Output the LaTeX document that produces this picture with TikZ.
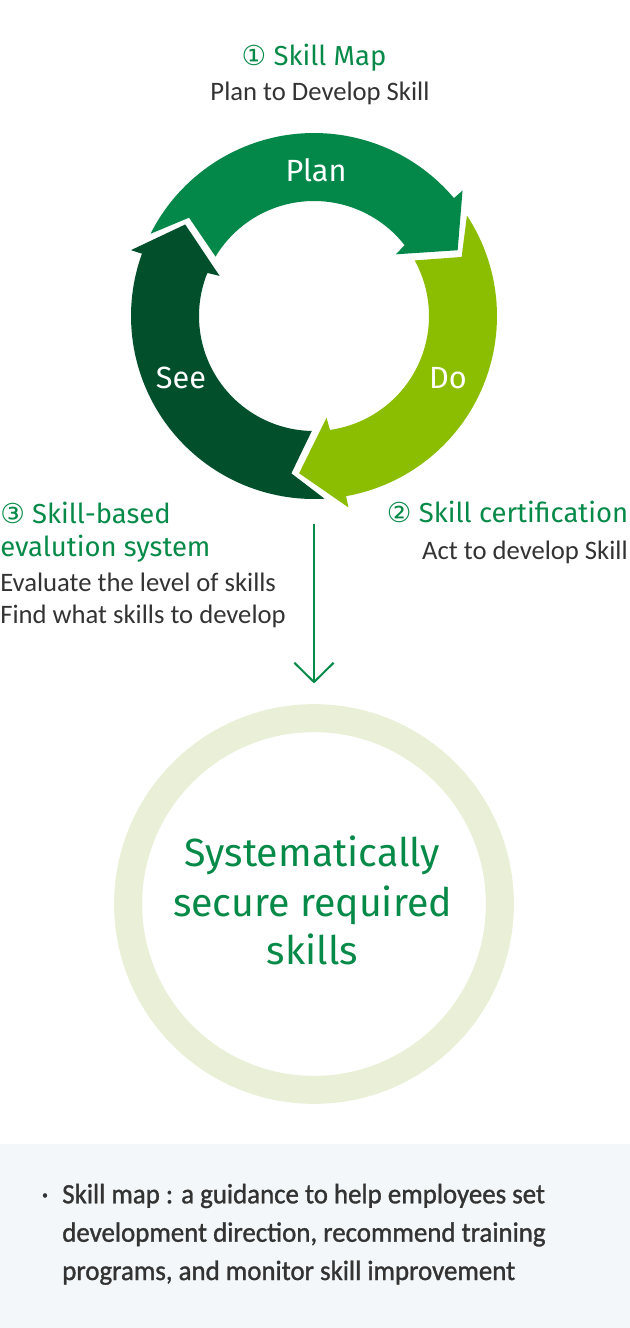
\documentclass[tikz,border=0pt]{standalone}
\usepackage{fontspec}
\setmainfont{Carlito}
\newfontfamily\headfont{Fira Sans}
\newfontfamily\symfont{DejaVu Sans}
\newfontfamily\notefont[FakeBold=1.2, FakeStretch=0.96]{Carlito}
\usetikzlibrary{positioning,arrows.meta}

\definecolor{plangreen}{HTML}{03884A}
\definecolor{dogreen}{HTML}{8BBD00}
\definecolor{seegreen}{HTML}{024F2C}
\definecolor{titlegreen}{HTML}{078A48}
\definecolor{textgray}{HTML}{333333}
\definecolor{ringgreen}{HTML}{E9F0D7}
\definecolor{notebg}{HTML}{F3F7FA}

% one bent arrow of the cycle: #1 = angle of its tip, #2 = colour
\newcommand{\cyclearrow}[2]{%
    \pgfmathsetmacro{\cyctip}{#1}%
    \pgfmathsetmacro{\cycprev}{#1+120}%
    \fill[#2] (\cycprev+8.7:183) arc[start angle=\cycprev+8.7, end angle=\cyctip+15.5, radius=183]
        -- (\cyctip+15.6:194.5) -- (\cyctip:158) -- (\cyctip+12.4:102.5) -- (\cyctip+13.4:115)
        arc[start angle=\cyctip+13.4, end angle=\cycprev+4.3, radius=115]
        -- (\cycprev-2.8:159) -- cycle;
}

\tikzset {
    head text/.style={
        font=\headfont\fontsize{20.6}{25}\selectfont,
        text=titlegreen,
        inner sep=0pt,
    },
    body text/.style={
        font=\fontsize{20}{24}\selectfont,
        text=textgray,
        inner sep=0pt,
    },
    cycle label/.style={
        font=\headfont\fontsize{23}{28}\selectfont,
        text=white,
        inner sep=0pt,
        anchor=base,
    },
    goal text/.style={
        font=\headfont\fontsize{29.5}{34}\selectfont,
        text=titlegreen,
        inner sep=0pt,
        anchor=base,
    },
    note text/.style={
        font=\notefont\fontsize{21}{26}\selectfont,
        text=textgray,
        inner sep=0pt,
    },
    flow arrow/.style={
        draw=titlegreen,
        line width=1.5pt,
        -{Straight Barb[length=14.5pt, width=29.5pt]},
        shorten >=15.5pt,
    },
}

\begin{document}
\begin{tikzpicture}[x=0.75pt, y=0.75pt]
    \useasboundingbox (0,0) rectangle (630,-1328);

    % plan - do - see
    \begin{scope}[shift={(314,-316)}]
        \cyclearrow{24.6}{plangreen}
        \cyclearrow{264.6}{dogreen}
        \cyclearrow{144.6}{seegreen}
    \end{scope}
    \node[cycle label] (plan) at (316,-181.7) {Plan};
    \node[cycle label] (do) at (448,-388.3) {Do};
    \node[cycle label] (see) at (181,-388.3) {See};

    \node[head text, anchor=base] (skillmap) at (314,-65) {{\symfont ①} Skill Map};
    \node[body text, anchor=base] (plandev) at (320,-100) {Plan to Develop Skill};

    \node[head text, anchor=base east] (cert) at (628.5,-522.3) {{\symfont ②} Skill certification};
    \node[body text, anchor=base east] (actdev) at (628,-559) {Act to develop Skill};

    \node[head text, anchor=base west] (evalA) at (0,-523.3) {{\symfont ③} Skill-based};
    \node[head text, anchor=base west] (evalB) at (0,-556.7) {evalution system};
    \node[body text, anchor=base west] (evaltxtA) at (0,-591.7) {Evaluate the level of skills};
    \node[body text, anchor=base west] (evaltxtB) at (0,-623.3) {Find what skills to develop};

    % result
    \node[circle, draw=ringgreen, line width=21pt, minimum size=278.8pt, inner sep=0pt] (goal) at (314,-904) {};
    \node[goal text] (goalA) at (312.5,-866.7) {Systematically};
    \node[goal text] (goalB) at (312.5,-916) {secure required};
    \node[goal text] (goalC) at (312.5,-964) {skills};

    \coordinate (flowtop) at (314,-524);
    \draw[flow arrow] (flowtop) -- (goal.north);

    % note
    \fill[notebg] (0,-1144) rectangle (630,-1328);
    \node[note text, anchor=base] (dot) at (45,-1203.3) {·};
    \node[note text, anchor=base west] (noteA) at (62,-1203.3) {Skill map : a guidance to help employees set};
    \node[note text, anchor=base west] (noteB) at (62,-1241.7) {development direction, recommend training};
    \node[note text, anchor=base west] (noteC) at (62,-1280) {programs, and monitor skill improvement};
\end{tikzpicture}
\end{document}
